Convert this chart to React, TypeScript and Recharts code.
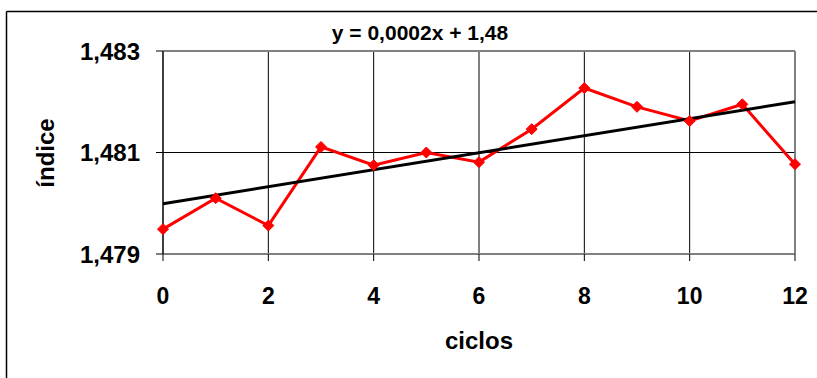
import React from "react";
import {
  LineChart,
  Line,
  XAxis,
  YAxis,
  CartesianGrid,
  ReferenceLine,
} from "recharts";

const cycles = [0, 1, 2, 3, 4, 5, 6, 7, 8, 9, 10, 11, 12];
const indexValues = [
  1.47949, 1.4801, 1.47956, 1.48111, 1.48075, 1.481, 1.48081, 1.48146,
  1.48227, 1.4819, 1.48162, 1.48195, 1.48077,
];
const trendCycles = [0, 12];
const trendValues = [1.47999, 1.482];
const xTicks = [0, 2, 4, 6, 8, 10, 12];
const yTicks = [1.479, 1.481, 1.483];
const titleText = "y = 0,0002x + 1,48";
const xTitle = "ciclos";
const yTitle = "índice";

const data = cycles.map((c, i) => {
  const t = trendCycles.indexOf(c);
  return {
    x: c,
    v: indexValues[i],
    trend: t >= 0 ? trendValues[t] : undefined,
  };
});

const FONT = "'Liberation Sans', Arial, sans-serif";

const Diamond = (props: any) => {
  const { cx, cy } = props;
  if (cx == null || cy == null) return null;
  const s = 5.5;
  return (
    <polygon
      points={`${cx},${cy - s} ${cx + s},${cy} ${cx},${cy + s} ${cx - s},${cy}`}
      fill="#FF0000"
      stroke="#FF0000"
    />
  );
};

const fmtY = (v: number) => v.toFixed(3).replace(".", ",");

export default function App() {
  return (
    <div
      style={{
        position: "absolute",
        left: 0,
        top: 0,
        width: 817,
        height: 378,
        background: "#fff",
        overflow: "hidden",
      }}
    >
      <LineChart
        width={817}
        height={378}
        data={data}
        margin={{ top: 51, right: 22, bottom: 94, left: 0 }}
      >
        <CartesianGrid
          stroke="#000"
          strokeWidth={1}
          horizontalValues={yTicks}
          verticalValues={xTicks}
        />
        <XAxis
          dataKey="x"
          type="number"
          domain={[0, 12]}
          ticks={xTicks}
          height={30}
          tickSize={7}
          tickMargin={27}
          axisLine={{ stroke: "#808080", strokeWidth: 2 }}
          tickLine={{ stroke: "#000" }}
          tick={{
            fill: "#000",
            fontFamily: FONT,
            fontWeight: "bold",
            fontSize: 23,
          }}
          interval={0}
        />
        <YAxis
          type="number"
          domain={[1.479, 1.483]}
          ticks={yTicks}
          width={163}
          tickSize={7}
          tickMargin={16}
          tickFormatter={fmtY}
          axisLine={{ stroke: "#000" }}
          tickLine={{ stroke: "#000" }}
          tick={{
            fill: "#000",
            fontFamily: FONT,
            fontWeight: "bold",
            fontSize: 24,
          }}
          interval={0}
        />
        <ReferenceLine y={1.483} stroke="#808080" strokeWidth={2} />
        <ReferenceLine x={12} stroke="#808080" strokeWidth={1.5} />
        <Line
          dataKey="v"
          stroke="#FF0000"
          strokeWidth={3}
          dot={<Diamond />}
          activeDot={false}
          isAnimationActive={false}
        />
        <Line
          dataKey="trend"
          stroke="#000"
          strokeWidth={3}
          dot={false}
          activeDot={false}
          connectNulls
          isAnimationActive={false}
        />
      </LineChart>
      <svg
        width={817}
        height={378}
        style={{ position: "absolute", left: 0, top: 0, pointerEvents: "none" }}
      >
        <line x1={6.5} y1={11.5} x2={817} y2={11.5} stroke="#000" strokeWidth={1.5} />
        <line x1={6.5} y1={11.5} x2={6.5} y2={378} stroke="#000" strokeWidth={1.5} />
        <text
          x={420}
          y={39.5}
          textAnchor="middle"
          fontFamily={FONT}
          fontWeight="bold"
          fontSize={21}
          fill="#000"
        >
          {titleText}
        </text>
        <text
          x={479}
          y={349}
          textAnchor="middle"
          fontFamily={FONT}
          fontWeight="bold"
          fontSize={24}
          fill="#000"
        >
          {xTitle}
        </text>
        <text
          x={54}
          y={153}
          transform="rotate(-90 54 153)"
          textAnchor="middle"
          fontFamily={FONT}
          fontWeight="bold"
          fontSize={24}
          fill="#000"
        >
          {yTitle}
        </text>
      </svg>
    </div>
  );
}
